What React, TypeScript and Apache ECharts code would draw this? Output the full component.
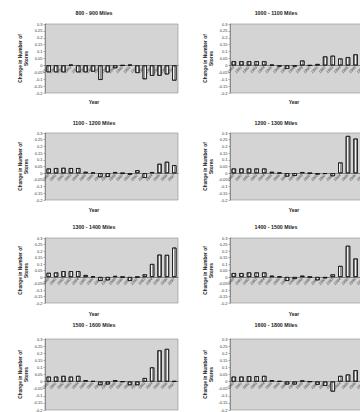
import React, { useEffect, useRef } from "react";
import * as echarts from "echarts";

const YEARS = ["1980","1981","1982","1983","1984","1985","1986","1987","1988","1989","1990","1991","1992","1993","1994","1995","1996","1997"];
const Y_TICKS_MIN = -0.2;
const Y_TICKS_MAX = 0.3;
const Y_TICKS_STEP = 0.05;

const TITLES = [
  "800 - 900 Miles",
  "1000 - 1100 Miles",
  "1100 - 1200 Miles",
  "1200 - 1300 Miles",
  "1300 - 1400 Miles",
  "1400 - 1500 Miles",
  "1500 - 1600 Miles",
  "1600 - 1800 Miles",
];

const miles800 = [-0.05,-0.05,-0.05,0.004,-0.05,-0.05,-0.045,-0.105,-0.05,-0.02,0,0.004,-0.055,-0.1,-0.075,-0.075,-0.065,-0.11];
const miles1000 = [0.03,0.03,0.03,0.03,0.03,0.004,-0.008,-0.025,-0.008,0.035,0,0.01,0.065,0.07,0.05,0.06,0.08,0.075];
const miles1100 = [0.035,0.038,0.04,0.038,0.038,0.01,0.004,-0.03,-0.028,0.008,0,-0.012,0.022,-0.035,0.008,0.07,0.085,0.06];
const miles1200 = [0.035,0.035,0.035,0.035,0.035,0.01,0.003,-0.025,-0.02,0.008,0,-0.01,-0.005,-0.022,0.08,0.278,0.258,0.05];
const miles1300 = [0.032,0.035,0.045,0.045,0.045,0.015,0.003,-0.03,-0.025,0.008,0,-0.03,0,0.02,0.1,0.172,0.17,0.226];
const miles1400 = [0.03,0.03,0.035,0.035,0.035,0.01,0.003,-0.03,-0.015,0.01,0,-0.025,-0.01,0.02,0.085,0.24,0.142,-0.02];
const miles1500 = [0.035,0.035,0.04,0.035,0.04,0.01,0.003,-0.025,-0.02,0.01,0,-0.025,-0.025,0.025,0.1,0.22,0.23,0.003];
const miles1600 = [0.035,0.035,0.038,0.038,0.04,0.01,0.003,-0.02,-0.02,0.008,0,-0.022,-0.03,-0.07,0.04,0.05,0.08,0.07];

const SERIES = [miles800, miles1000, miles1100, miles1200, miles1300, miles1400, miles1500, miles1600];

const Y_NAME = "Change in Number of\nStores";
const X_NAME = "Year";

// layout (pixels)
const ROW_TOP = [24, 133, 238, 339];
const ROW_H = [69, 67, 65, 72];
const COL_LEFT = [45, 230];
const COL_W = [133, 137];
const TITLE_Y = [13, 123, 227, 325];
const TITLE_X = [94, 276];
const XNAME_Y = [102, 210, 314];
const XNAME_X = [94, 294];

const FONT = "'Liberation Sans', Arial, sans-serif";

function fmt(v: number) {
  const r = Math.round(v * 100) / 100;
  return String(r);
}

export default function App() {
  const ref = useRef<HTMLDivElement>(null);
  useEffect(() => {
    if (!ref.current) return;
    const chart = echarts.init(ref.current, undefined, { renderer: "svg" });
    const grids: any[] = [];
    const xAxes: any[] = [];
    const yAxes: any[] = [];
    const series: any[] = [];
    const graphics: any[] = [];
    SERIES.forEach((data, i) => {
      const row = Math.floor(i / 2);
      const col = i % 2;
      const h = ROW_H[row];
      // fraction of the plot height lying below zero
      const belowZero = (0 - Y_TICKS_MIN) / (Y_TICKS_MAX - Y_TICKS_MIN);
      grids.push({
        left: COL_LEFT[col],
        top: ROW_TOP[row],
        width: COL_W[col],
        height: h,
        show: true,
        backgroundColor: "#d4d4d4",
        borderColor: "#8c8c8c",
        borderWidth: 0.6,
      });
      xAxes.push({
        gridIndex: i,
        type: "category",
        data: YEARS,
        position: "bottom",
        offset: -h * belowZero,
        axisLine: { onZero: false, lineStyle: { color: "#444", width: 0.6 } },
        axisTick: { show: false },
        axisLabel: { rotate: 45, fontSize: 3.8, color: "#3a3a3a", interval: 0, margin: 1.5, fontFamily: FONT, fontStyle: "italic" },
        splitLine: { show: false },
      });
      yAxes.push({
        gridIndex: i,
        type: "value",
        min: Y_TICKS_MIN,
        max: Y_TICKS_MAX,
        interval: Y_TICKS_STEP,
        axisLine: { show: true, lineStyle: { color: "#666", width: 0.6 } },
        axisTick: { show: true, length: 1.5, lineStyle: { color: "#666", width: 0.5 } },
        axisLabel: { fontSize: 4, color: "#333", margin: 2.5, formatter: fmt, fontFamily: FONT },
        splitLine: { show: false },
        name: Y_NAME,
        nameLocation: "middle",
        nameGap: 15,
        nameTextStyle: { fontSize: 4.8, fontWeight: "bold", color: "#222", lineHeight: 6, fontFamily: FONT },
      });
      series.push({
        type: "bar",
        xAxisIndex: i,
        yAxisIndex: i,
        data,
        barWidth: "58%",
        itemStyle: {
          color: "#f4f4f4",
          borderColor: "#111",
          borderWidth: 0.7,
          decal: {
            symbol: "rect",
            symbolSize: 1,
            dashArrayX: [1, 1],
            dashArrayY: [4, 0],
            color: "rgba(70,70,70,0.55)",
          },
        },
      });
      graphics.push({
        type: "text",
        x: TITLE_X[col],
        y: TITLE_Y[row],
        style: { text: TITLES[i], fontSize: 5.3, fontWeight: "bold", fill: "#222", align: "center", verticalAlign: "middle", fontFamily: FONT },
      });
      if (row < XNAME_Y.length) {
        graphics.push({
          type: "text",
          x: XNAME_X[col],
          y: XNAME_Y[row],
          style: { text: X_NAME, fontSize: 5, fontWeight: "bold", fill: "#222", align: "center", verticalAlign: "middle", fontFamily: FONT },
        });
      }
    });
    chart.setOption({
      animation: false,
      backgroundColor: "#ffffff",
      textStyle: { fontFamily: FONT },
      grid: grids,
      xAxis: xAxes,
      yAxis: yAxes,
      series,
      graphic: graphics,
    });
    return () => chart.dispose();
  }, []);
  return (
    <div style={{ position: "fixed", left: 0, top: 0, width: 360, height: 412, overflow: "hidden", background: "#fff" }}>
      <div ref={ref} style={{ width: 372, height: 412 }} />
    </div>
  );
}
